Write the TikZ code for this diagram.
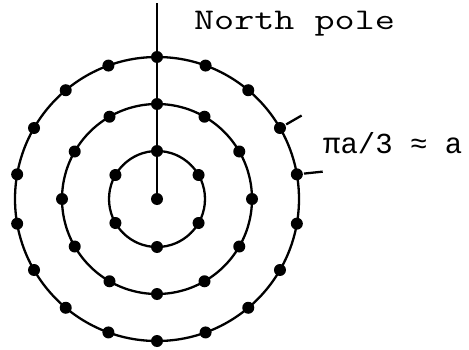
\documentclass[tikz,border=0pt]{standalone}
\usepackage{fontspec}
\usepackage{tikz}
\newfontfamily\monofont{Liberation Mono}
\newfontfamily\polefont[FakeStretch=1.3]{Latin Modern Mono}
\tikzset{dot/.style={circle, fill=black, inner sep=0pt, minimum size=12pt}}

\begin{document}
\begin{tikzpicture}[x=1pt, y=1pt, line width=2.3pt]
  \useasboundingbox (0,0) rectangle (469,349);
  \begin{scope}[shift={(157,150)}]
    \coordinate (axis) at (0,196);
    \draw (0,0) circle[radius=48pt];
    \draw (0,0) circle[radius=95pt];
    \draw (0,0) circle[radius=142pt];
    \node[dot] (pole) at (0,0) {};
    \draw (pole.center) -- (axis);
    \foreach \i in {0,...,5} \node[dot] (in\i) at (90-60*\i:48) {};
    \foreach \i in {0,...,11} \node[dot] (mid\i) at (90-30*\i:95) {};
    \foreach \i in {0,...,17} \node[dot] (out\i) at (90-20*\i:142) {};
    \draw (out3) -- ++(30:25);
    \draw (out4) -- ++(6:26);
  \end{scope}
  \node[font=\polefont\fontsize{30}{30}\selectfont, anchor=base west, inner sep=0pt] (npole) at (193,319.5) {North pole};
  \node[font=\monofont\fontsize{29}{29}\selectfont, anchor=base west, inner sep=0pt] (arclen) at (322,196) {πa/3 ≈ a};
\end{tikzpicture}
\end{document}
